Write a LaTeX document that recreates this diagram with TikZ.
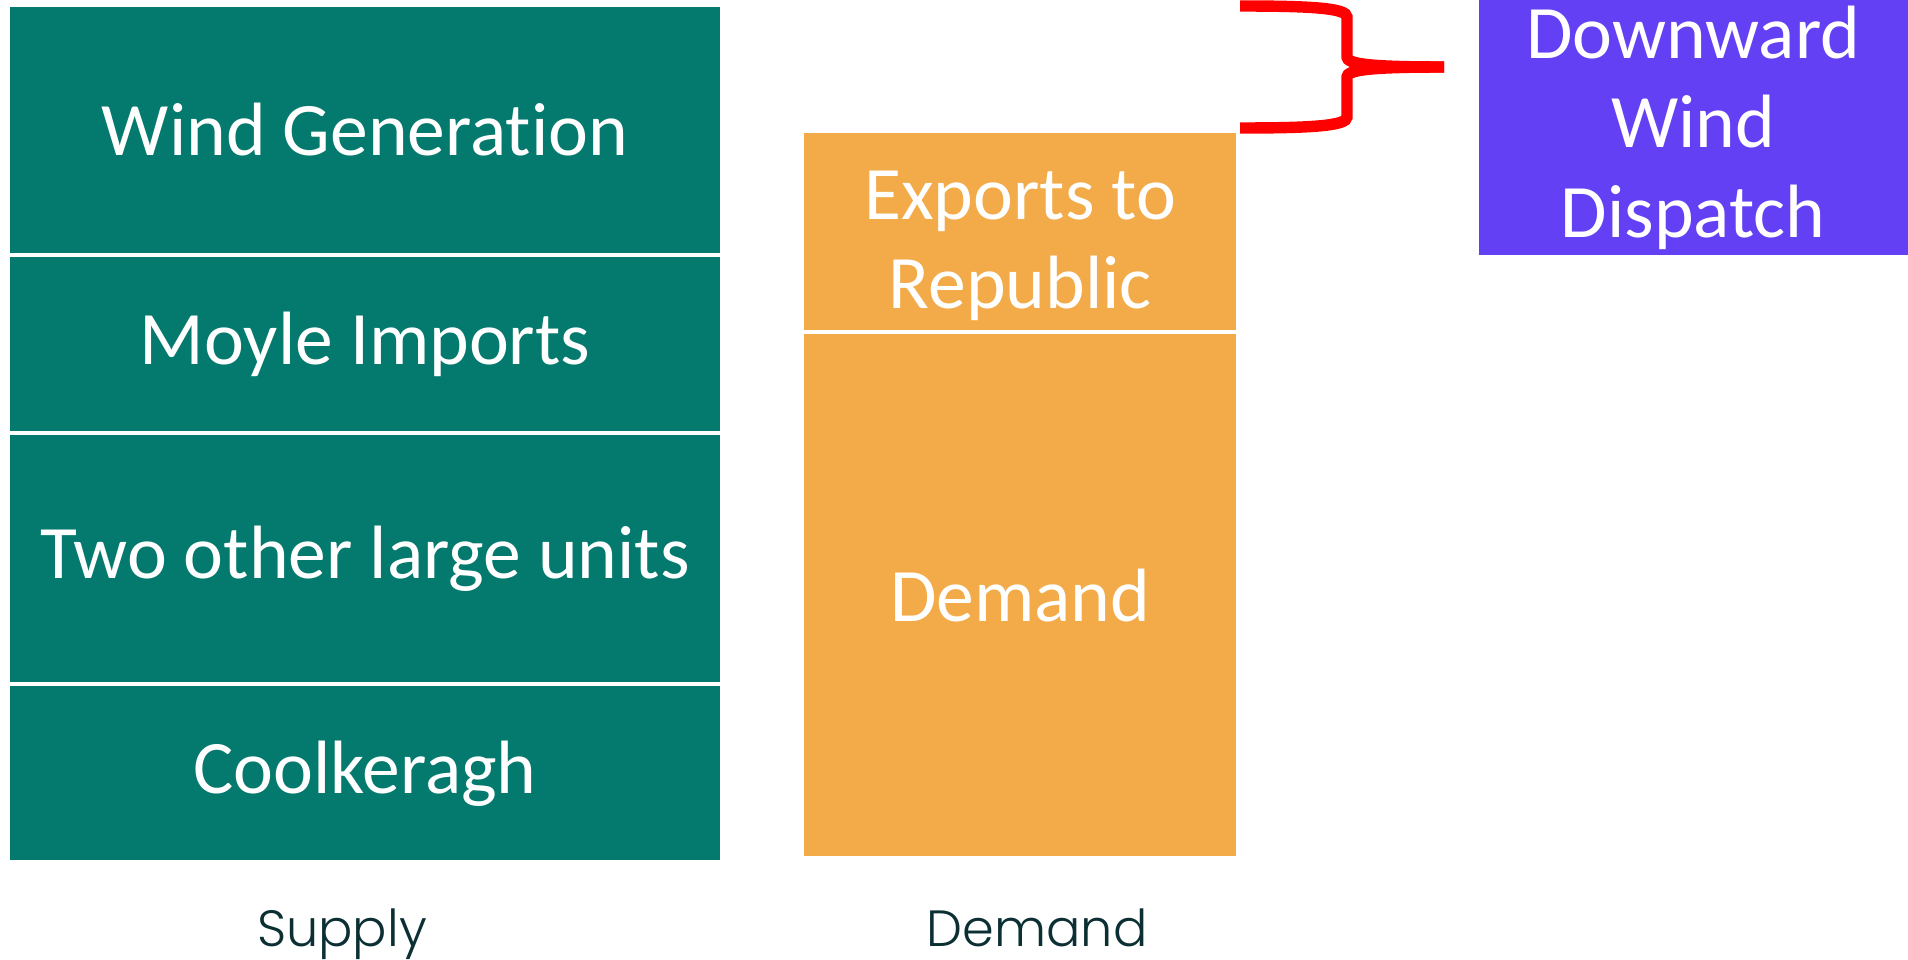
\documentclass[tikz,border=0pt]{standalone}
\usepackage{fontspec}
\setmainfont{Carlito}[Ligatures=NoCommon]
\newfontfamily\axisfont{Poppins}[UprightFont=* Light]
\usepackage{xcolor}
\usepackage{tikz}
\usetikzlibrary{positioning}
\definecolor{gTeal}{HTML}{047A6E}
\definecolor{gOrange}{HTML}{F3AA48}
\definecolor{gPurple}{HTML}{6440F5}
\definecolor{gRed}{HTML}{FF0000}
\definecolor{gInk}{HTML}{0B2F33}
\tikzset{
  block/.style={draw=white, line width=1.2pt, minimum width=14.26cm, inner sep=0pt,
    text=white, align=center, font=\fontsize{43}{51}\selectfont},
  supplyblock/.style={block, fill=gTeal},
  demandblock/.style={block, fill=gOrange, minimum width=8.69cm},
  axislabel/.style={font=\axisfont\fontsize{29}{34}\selectfont, text=gInk, anchor=base},
}

\begin{document}
\begin{tikzpicture}
      \useasboundingbox (0,0) rectangle (38.16,-19.2);
      % supply stack, top to bottom
      \node[supplyblock, minimum height=4.96cm] (wind) at (7.30,-2.60) {Wind Generation};
      \node[supplyblock, minimum height=3.51cm, below=0pt of wind] (moyle) {Moyle Imports};
      \node[supplyblock, minimum height=4.99cm, below=0pt of moyle] (large) {Two other large units};
      \node[supplyblock, minimum height=3.52cm, below=0pt of large] (coolk) {Coolkeragh};
      % demand stack
      \node[demandblock, minimum height=3.99cm] (exports) at (20.405,-4.625)
        {\rule{0pt}{1.55cm}Exports to\\Republic};
      \node[demandblock, minimum height=10.48cm, below=0pt of exports] (load) {Demand};
      % dispatch box
      \node[block, draw=none, fill=gPurple, minimum width=8.59cm, minimum height=5.11cm]
        (dispatch) at (33.865,-2.555) {Downward\\Wind\\Dispatch};
      % brace over the wind that cannot be absorbed
      \coordinate (btop) at (24.80,-0.12);
      \coordinate (bbot) at (24.80,-2.56);
      \coordinate (btip) at (28.88,-1.34);
      \draw[gRed, line width=6.5pt, line join=miter]
        (btop) .. controls (26.2,-0.12) and (26.94,-0.16) .. (26.94,-0.34) -- (26.94,-1.14)
        .. controls (26.94,-1.28) and (27.4,-1.34) .. (btip);
      \draw[gRed, line width=6.5pt, line join=miter]
        (bbot) .. controls (26.2,-2.56) and (26.94,-2.52) .. (26.94,-2.34) -- (26.94,-1.54)
        .. controls (26.94,-1.40) and (27.4,-1.34) .. (btip);
      \node[axislabel] (supplylbl) at (6.84,-18.92) {Supply};
      \node[axislabel] (demandlbl) at (20.74,-18.92) {Demand};
    \end{tikzpicture}
\end{document}
